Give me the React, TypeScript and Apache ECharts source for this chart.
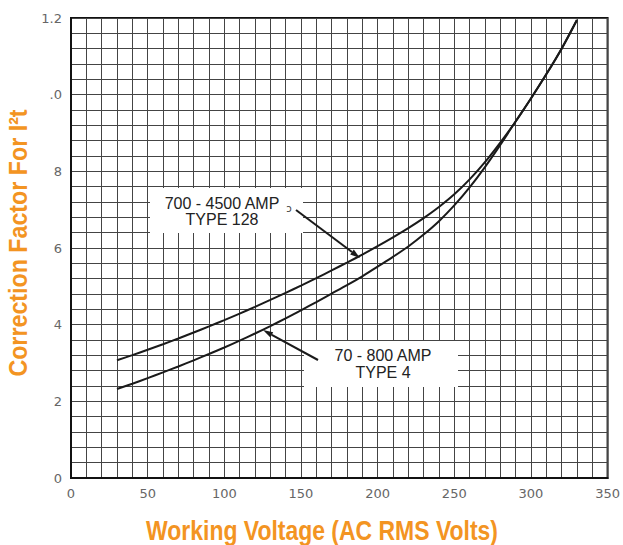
import React, { useEffect, useRef } from "react";
import * as echarts from "echarts";

// Working voltage (x) sample points
const voltages = [30, 40, 50, 60, 70, 80, 90, 100, 110, 120, 130, 140, 150, 160, 170, 180, 190, 200, 210, 220, 230, 240, 250, 260, 270, 280, 290, 300, 310, 320, 330];
// 700 - 4500 AMP, TYPE 128
const type128 = [0.307, 0.3205, 0.3345, 0.349, 0.364, 0.3795, 0.3955, 0.412, 0.429, 0.4465, 0.4645, 0.483, 0.502, 0.5215, 0.5415, 0.562, 0.583, 0.605, 0.628, 0.652, 0.678, 0.707, 0.74, 0.779, 0.824, 0.875, 0.93, 0.99, 1.053, 1.12, 1.195];
// 70 - 800 AMP, TYPE 4
const type4 = [0.232, 0.246, 0.2605, 0.2755, 0.291, 0.307, 0.3235, 0.3405, 0.3583, 0.3769, 0.3963, 0.4165, 0.4375, 0.459, 0.481, 0.503, 0.526, 0.5515, 0.577, 0.604, 0.635, 0.67, 0.711, 0.758, 0.811, 0.869, 0.93, 0.99, 1.053, 1.12, 1.195];

const xTickLabels = ["0", "50", "100", "150", "200", "250", "300", "350"];
const yTickValues = [0, 0.2, 0.4, 0.6, 0.8, 1.0, 1.2];
const yTickLabels = ["0", "2", "4", "6", "8", ".0", "1.2"];

const ORANGE = "#F39422";

export default function App() {
  const ref = useRef<HTMLDivElement>(null);
  useEffect(() => {
    if (!ref.current) return;
    const chart = echarts.init(ref.current, null, { renderer: "svg" });
    const option: any = {
      animation: false,
      backgroundColor: "#ffffff",
      grid: {
        left: 71,
        right: 12,
        top: 18,
        bottom: 67,
        show: true,
        borderColor: "#111",
        borderWidth: 2,
        backgroundColor: "transparent",
      },
      xAxis: {
        type: "value",
        min: 0,
        max: 350,
        interval: 10,
        axisLine: { show: true, lineStyle: { color: "#111", width: 2 } },
        axisTick: { show: false },
        splitLine: { show: true, lineStyle: { color: "#444", width: 1 } },
        axisLabel: {
          margin: 9,
          color: "#666",
          fontSize: 13,
          fontFamily: "DejaVu Sans",
          formatter: (v: number) => {
            const r = Math.round(v);
            if (r % 50 !== 0) return "";
            return xTickLabels[r / 50];
          },
        },
      },
      yAxis: {
        type: "value",
        min: 0,
        max: 1.2,
        interval: 0.04,
        axisLine: { show: true, lineStyle: { color: "#111", width: 2 } },
        axisTick: { show: false },
        splitLine: { show: true, lineStyle: { color: "#444", width: 1 } },
        axisLabel: {
          margin: 9,
          color: "#666",
          fontSize: 13,
          fontFamily: "DejaVu Sans",
          formatter: (v: number) => {
            const idx = yTickValues.findIndex((t) => Math.abs(t - v) < 1e-6);
            return idx >= 0 ? yTickLabels[idx] : "";
          },
        },
      },
      series: [
        {
          name: "700 - 4500 AMP TYPE 128",
          type: "line",
          data: voltages.map((v, i) => [v, type128[i]]),
          showSymbol: false,
          smooth: 0.3,
          lineStyle: { color: "#1a1a1a", width: 2 },
          z: 5,
        },
        {
          name: "70 - 800 AMP TYPE 4",
          type: "line",
          data: voltages.map((v, i) => [v, type4[i]]),
          showSymbol: false,
          smooth: 0.3,
          lineStyle: { color: "#1a1a1a", width: 2 },
          z: 5,
        },
      ],
      graphic: [
        // annotation box 1
        { type: "rect", shape: { x: 150, y: 188, width: 153, height: 45 }, style: { fill: "#fff" }, z: 10 },
        { type: "text", x: 222, y: 203, style: { text: "700 - 4500 AMP", fill: "#222", fontSize: 16, fontFamily: "Liberation Sans", textAlign: "center", textVerticalAlign: "middle" }, z: 11 },
        { type: "text", x: 222, y: 219, style: { text: "TYPE 128", fill: "#222", fontSize: 16, fontFamily: "Liberation Sans", textAlign: "center", textVerticalAlign: "middle" }, z: 11 },
        { type: "text", x: 289, y: 208, style: { text: "ɔ", fill: "#444", fontSize: 10, fontFamily: "DejaVu Sans", textAlign: "center", textVerticalAlign: "middle" }, z: 11 },
        { type: "line", shape: { x1: 296, y1: 210, x2: 352, y2: 252 }, style: { stroke: "#1a1a1a", lineWidth: 2 }, z: 11 },
        { type: "polygon", shape: { points: [[360, 258], [350.2, 254.4], [353.8, 249.6]] }, style: { fill: "#1a1a1a" }, z: 11 },
        // annotation box 2
        { type: "rect", shape: { x: 304, y: 341, width: 154, height: 46 }, style: { fill: "#fff" }, z: 10 },
        { type: "text", x: 383, y: 355, style: { text: "70 - 800 AMP", fill: "#222", fontSize: 16, fontFamily: "Liberation Sans", textAlign: "center", textVerticalAlign: "middle" }, z: 11 },
        { type: "text", x: 383, y: 372, style: { text: "TYPE 4", fill: "#222", fontSize: 16, fontFamily: "Liberation Sans", textAlign: "center", textVerticalAlign: "middle" }, z: 11 },
        { type: "line", shape: { x1: 318, y1: 360, x2: 271.8, y2: 334.8 }, style: { stroke: "#1a1a1a", lineWidth: 2 }, z: 11 },
        { type: "polygon", shape: { points: [[263, 330], [273.2, 332.2], [270.4, 337.4]] }, style: { fill: "#1a1a1a" }, z: 11 },
        // axis titles
        { type: "text", x: 322, y: 530, scaleX: 0.82, style: { text: "Working Voltage (AC RMS Volts)", fill: ORANGE, fontSize: 28, fontWeight: "bold", fontFamily: "Liberation Sans", textAlign: "center", textVerticalAlign: "middle" }, z: 11 },
        { type: "text", x: 18, y: 243, rotation: Math.PI / 2, scaleX: 0.93, style: { text: "Correction Factor For I²t", fill: ORANGE, fontSize: 25, fontWeight: "bold", fontFamily: "Liberation Sans", textAlign: "center", textVerticalAlign: "middle" }, z: 11 },
      ],
    };
    chart.setOption(option);
    return () => chart.dispose();
  }, []);
  return <div ref={ref} style={{ width: 623, height: 545, position: "absolute", left: 0, top: 0 }} />;
}
